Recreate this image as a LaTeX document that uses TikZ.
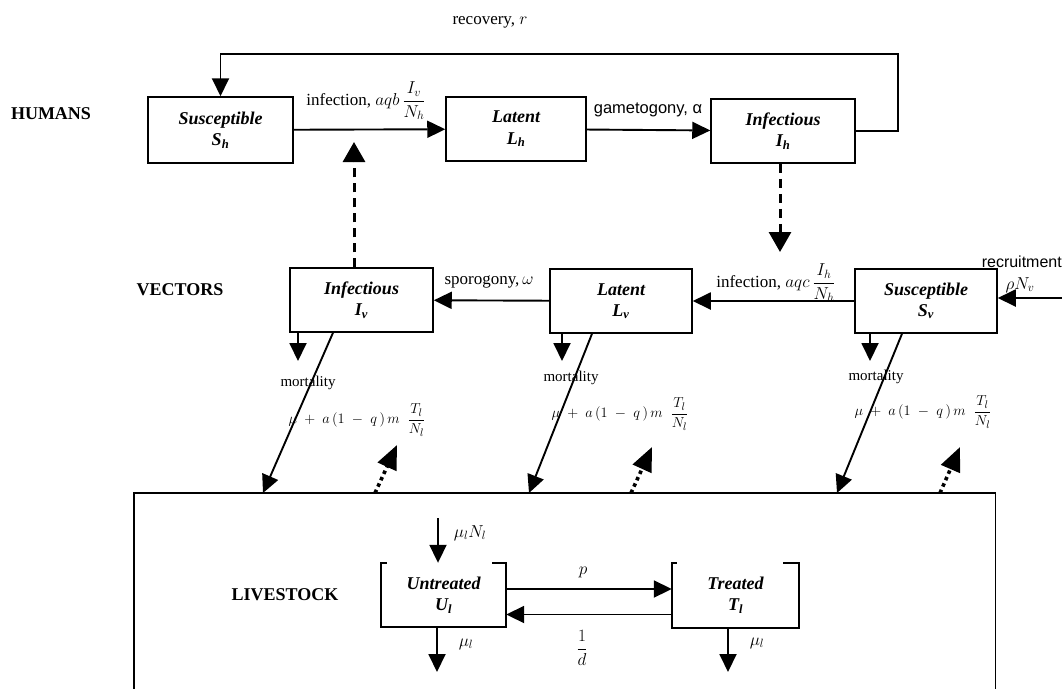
\documentclass[tikz,border=0pt]{standalone}
\usepackage{amsmath}
\usepackage{fontspec}
\setmainfont{Liberation Serif}
\newfontfamily\arialfont{Liberation Sans}
\usetikzlibrary{arrows.meta, positioning}

\begin{document}
\begin{tikzpicture}[
    x=1pt, y=-1pt,
    comp/.style={draw, line width=1.5pt, minimum width=142pt, minimum height=64pt,
                 align=center, inner sep=2pt,
                 font=\fontsize{18}{21}\selectfont\bfseries\itshape},
    bracket/.style={minimum height=64pt, align=center, inner sep=2pt,
                    font=\fontsize{18}{21}\selectfont\bfseries\itshape},
    boxline/.style={line width=1.7pt},
    flow/.style={-{Triangle[length=18pt, width=17pt]}, line width=1.9pt},
    dashflow/.style={-{Triangle[length=20pt, width=22pt]}, line width=3pt,
                     dash pattern=on 9pt off 6pt},
    feed/.style={-{Triangle[length=24pt, width=20pt]}, line width=3.6pt,
                 dash pattern=on 3.5pt off 3.5pt},
    group/.style={font=\fontsize{18}{21}\selectfont\bfseries},
    rate/.style={font=\fontsize{17}{20}\selectfont, inner sep=1pt},
    mort/.style={font=\fontsize{15}{18}\selectfont, inner sep=1pt},
    formula/.style={font=\fontsize{15}{18}\selectfont, inner sep=1pt},
  ]
  \useasboundingbox (0,0) rectangle (1062,688);

  % --- humans ---
  \node[group] (humans) at (51,114) {HUMANS};
  \node[comp, minimum width=145pt, minimum height=66pt] (Sh) at (220.5,130) {Susceptible\\S\textsubscript{h}};
  \node[comp, minimum width=140pt] (Lh) at (516,129) {Latent\\L\textsubscript{h}};
  \node[comp, minimum width=144pt] (Ih) at (783,131) {Infectious\\I\textsubscript{h}};

  \draw[flow] (Sh) -- (Lh);
  \draw[flow] (Lh) -- (Ih);
  \node[rate] (infHLbl) at (366,101) {infection, $aqb\,\dfrac{I_v}{N_h}$};
  \node[rate, font=\arialfont\fontsize{16.5}{20}\selectfont] (gamLbl) at (648,110) {gametogony, α};

  \coordinate (recCorner) at (898,54);
  \draw[flow] (Ih.east) -| (recCorner) -| (Sh.north);
  \node[rate] (recLbl) at (490,22) {recovery, $r$};

  % --- vectors ---
  \node[group] (vectors) at (180,290) {VECTORS};
  \node[comp, minimum width=143pt] (Iv) at (361.5,300) {Infectious\\I\textsubscript{v}};
  \node[comp] (Lv) at (621,301) {Latent\\L\textsubscript{v}};
  \node[comp] (Sv) at (926,301) {Susceptible\\S\textsubscript{v}};

  \draw[flow] (Sv) -- (Lv);
  \draw[flow] (Lv) -- (Iv);
  \node[rate] (sporLbl) at (489,282) {sporogony,$\,\omega$};
  \node[rate] (infVLbl) at (776,283) {infection, $aqc\,\dfrac{I_h}{N_h}$};

  \coordinate (recrIn) at (1064,298);
  \draw[flow] (recrIn) -- (recrIn -| Sv.east);
  \node[font=\arialfont\fontsize{16}{19}\selectfont, anchor=east, inner sep=0pt] (recrLbl) at (1062,262) {recruitment};
  \node[rate] (rhoLbl) at (1020,285) {$\rho N_v$};

  % --- cross infection (dashed) ---
  \coordinate (ihDrop) at (780,252);
  \coordinate (ivRise) at (354,142);
  \draw[dashflow] (ihDrop |- Ih.south) -- (ihDrop);
  \draw[dashflow] (ivRise |- Iv.north) -- (ivRise);

  % --- livestock frame ---
  \node[minimum width=861pt, minimum height=230pt, anchor=north west, inner sep=0pt] (stock) at (134,493) {};
  \draw[boxline] (stock.south west) |- (stock.north east) -- (stock.south east);

  % --- vector mortality and feeding on livestock ---
  \foreach \v/\die/\bite/\hit in {Iv/298/333/263, Lv/562/592/529, Sv/870/902/837} {
    \coordinate (\v-die) at (\die,361);
    \coordinate (\v-bite) at (\bite,0);
    \coordinate (\v-hit) at (\hit,0);
    \draw[flow] (\v-die |- \v.south) -- (\v-die);
    \draw[flow] (\v-bite |- \v.south) -- (\v-hit |- stock.north);
  }
  \foreach \v/\x/\tx/\ty in {Iv/375/397/445, Lv/631/652/447, Sv/940/960/447} {
    \coordinate (\v-back) at (\x,0);
    \coordinate (\v-tip) at (\tx,\ty);
    \draw[feed] (\v-back |- stock.north) -- (\v-tip);
  }
  \foreach \v/\mx/\my/\fx/\fy in {Iv/308/383/357/420, Lv/571/378/620/414, Sv/876/377/923/412} {
    \node[mort] (\v-mort) at (\mx,\my) {mortality};
    \node[formula] (\v-rate) at (\fx,\fy) {$\mu \;+\; a\,(1 \;-\; q\,)\,m\;\;\dfrac{T_l}{N_l}$};
  }

  % --- livestock ---
  \node[group] (livestock) at (285,595) {LIVESTOCK};
  \node[bracket, minimum width=125pt] (Unt) at (443.5,595) {Untreated\\U\textsubscript{l}};
  \node[bracket, minimum width=127pt] (Trt) at (735.5,595.5) {Treated\\T\textsubscript{l}};
  \draw[boxline] ([xshift=6pt]Unt.north west) -- (Unt.north west) -- (Unt.south west)
      -- (Unt.south east) -- (Unt.north east) -- ([xshift=-14pt]Unt.north east);
  \draw[boxline] ([xshift=5pt]Trt.north west) -- (Trt.north west) -- (Trt.south west)
      -- (Trt.south east) -- (Trt.north east) -- ([xshift=-16pt]Trt.north east);

  \coordinate (birth) at (438,518);
  \coordinate (untDie) at (437,672);
  \coordinate (trtDie) at (728,672);
  \draw[flow] (birth) -- (birth |- Unt.north);
  \draw[flow] (untDie |- Unt.south) -- (untDie);
  \draw[flow] (trtDie |- Trt.south) -- (trtDie);
  \node[rate] (birthLbl) at (470,533) {$\mu_l N_l$};
  \node[rate] (untDieLbl) at (466,644) {$\mu_l$};
  \node[rate] (trtDieLbl) at (757,643) {$\mu_l$};

  \draw[flow] ([yshift=6pt]Unt.east) -- ([yshift=6pt]Unt.east -| Trt.west);
  \draw[flow] ([yshift=-19pt]Trt.west) -- ([yshift=-19pt]Trt.west -| Unt.east);
  \node[rate] (pLbl) at (583,572) {$p$};
  \node[rate] (dLbl) at (582,648) {$\dfrac{1}{d}$};
\end{tikzpicture}
\end{document}
